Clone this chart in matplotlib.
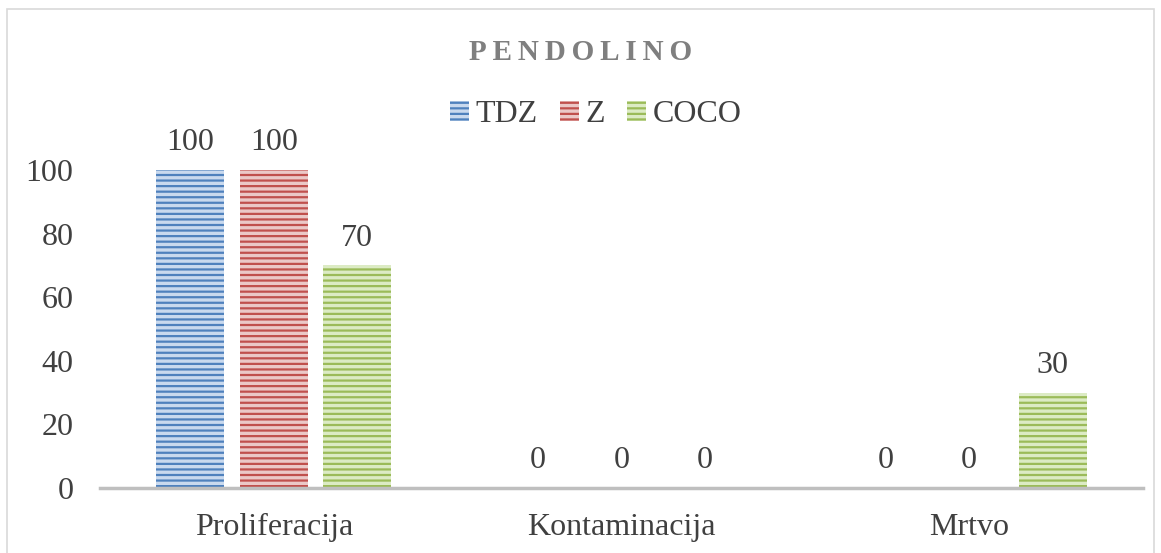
import matplotlib.pyplot as plt
import matplotlib.patches as mpatches
import numpy as np

plt.rcParams['font.family'] = ['Liberation Serif', 'DejaVu Serif']
plt.rcParams['hatch.linewidth'] = 1.6

categories = ["Proliferacija", "Kontaminacija", "Mrtvo"]
series = ["TDZ", "Z", "COCO"]
tdz = [100, 0, 0]
z = [100, 0, 0]
coco = [70, 0, 30]
yticks = [0, 20, 40, 60, 80, 100]

edge_colors = ["#4F81BD", "#C0504D", "#9BBB59"]
fill_colors = ["#C9D9EE", "#EBC8C7", "#DCEBC4"]

fig = plt.figure(figsize=(11.61, 5.53), dpi=100)
fig.patches.append(mpatches.Rectangle((0.006, -0.01), 0.988, 0.993, transform=fig.transFigure,
                                      fill=False, edgecolor="#D9D9D9", linewidth=1.2))
ax = fig.add_axes([0.0861, 0.1175, 0.8984, 0.5751])

x = np.arange(len(categories))
width = 0.195
step = 0.24
for i, (name, vals) in enumerate(zip(series, [tdz, z, coco])):
    pos = x + (i - 1) * step
    ax.bar(pos, vals, width, color=fill_colors[i], edgecolor=edge_colors[i],
           hatch="---", linewidth=0, label=name)
    for p, v in zip(pos, vals):
        ax.text(p, v + 4, str(v), ha="center", va="bottom", fontsize=23, color="#404040",
                clip_on=False)

ax.set_xlim(-0.5, 2.5)
ax.set_ylim(0, 100)
ax.set_yticks(yticks)
ax.set_xticks(x)
ax.set_xticklabels(categories)
ax.tick_params(axis="y", length=0, labelsize=23, labelcolor="#404040", pad=19)
ax.tick_params(axis="x", length=0, labelsize=23, labelcolor="#404040", pad=18)
for s in ["top", "right", "left"]:
    ax.spines[s].set_visible(False)
ax.spines["bottom"].set_color("#BFBFBF")
ax.spines["bottom"].set_linewidth(2.5)

fig.text(0.5, 0.905, "\u2009".join("PENDOLINO"), ha="center", va="center", fontsize=21,
         fontweight="bold", color="#7F7F7F")

handles = [mpatches.Patch(facecolor=fill_colors[i], edgecolor=edge_colors[i], hatch="---",
                          linewidth=0, label=series[i]) for i in range(3)]
fig.legend(handles=handles, loc="center", bbox_to_anchor=(0.513, 0.793), ncol=3, frameon=False,
           fontsize=23, handlelength=0.6, handleheight=0.6, handletextpad=0.2,
           columnspacing=0.7, labelcolor="#404040")

fig.savefig("out.png", dpi=100)
